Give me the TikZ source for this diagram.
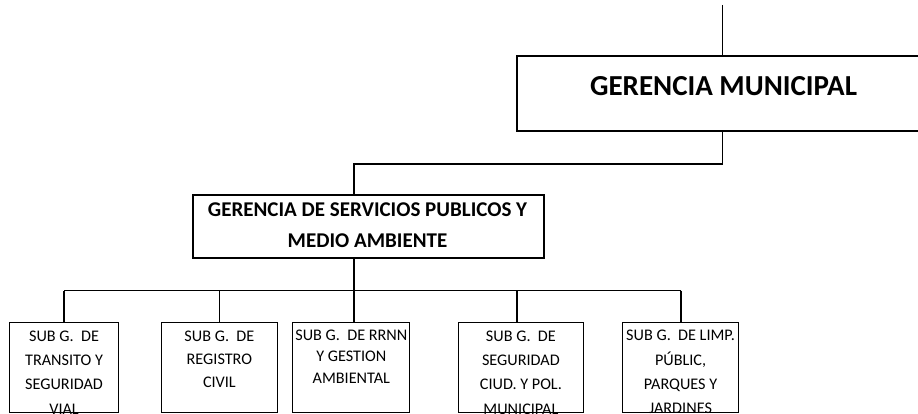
\documentclass[tikz,border=0pt]{standalone}
\usepackage{fontspec}
\setmainfont{Carlito}
\begin{document}
\begin{tikzpicture}[x=1pt,y=-1pt,
  bigbox/.style={draw,line width=2pt,inner sep=0pt,anchor=north west},
  subbox/.style={draw,line width=1.1pt,inner sep=0pt,anchor=north west,minimum height=90.5pt},
  conn/.style={line width=1.4pt},
  subtext/.style={inner sep=0pt,anchor=north,align=center,font={\fontsize{16.2}{24.3}\selectfont}},
]
\clip (0,0) rectangle (918,414);
% boxes
\node[bigbox,minimum width=420pt,minimum height=75pt] (gm) at (515.7,55) {};
\node[anchor=base,inner sep=0pt,font={\fontsize{29}{34}\selectfont\bfseries}] (gmt) at (723.5,96) {GERENCIA MUNICIPAL};
\node[bigbox,minimum width=351.6pt,minimum height=63.3pt] (gs) at (191.7,194) {};
\node[inner sep=0pt,anchor=north,align=center,font={\fontsize{21}{31}\selectfont\bfseries}] (gst) at (367.5,203) {GERENCIA DE SERVICIOS PUBLICOS Y\\MEDIO AMBIENTE};
\node[subbox,minimum width=109pt] (b1) at (9,321.7) {};
\node[subbox,minimum width=116.3pt] (b2) at (160.7,321.7) {};
\node[subbox,minimum width=117pt] (b3) at (292.3,321.7) {};
\node[subbox,minimum width=124.7pt] (b4) at (458,321.7) {};
\node[subbox,minimum width=115.4pt] (b5) at (622.3,321.7) {};
% texts of sub boxes (clipped to the box)
\begin{scope}
\clip (b1.north west) rectangle (b1.south east);
\node[subtext] (t1) at (b1.center |- 0,330.6) {SUB G.\ \ DE\\TRANSITO Y\\SEGURIDAD\\VIAL};
\end{scope}
\begin{scope}
\clip (b2.north west) rectangle (b2.south east);
\node[subtext,font={\fontsize{16.2}{23.3}\selectfont}] (t2) at (b2.center |- 0,330.6) {SUB G.\ \ DE\\REGISTRO\\CIVIL};
\end{scope}
\begin{scope}
\clip (b3.north west) rectangle (b3.south east);
\node[subtext,font={\fontsize{16.2}{21.5}\selectfont}] (t3) at (b3.center |- 0,329.5) {SUB G.\ \ DE RRNN\\Y GESTION\\AMBIENTAL};
\end{scope}
\begin{scope}
\clip (b4.north west) rectangle (b4.south east);
\node[subtext] (t4) at (b4.center |- 0,330.6) {SUB G.\ \ DE\\SEGURIDAD\\CIUD. Y POL.\\MUNICIPAL};
\end{scope}
\begin{scope}
\clip (b5.north west) rectangle (b5.south east);
\node[subtext] (t5) at (b5.center |- 0,330.2) {SUB G.\ \ DE LIMP.\\PÚBLIC,\\PARQUES Y\\JARDINES};
\end{scope}
% connectors
\coordinate (top) at (722.5,5);
\coordinate (j1) at (722.5,164);
\coordinate (x354) at (354,0);
\coordinate (sp) at (354,290.5);
\coordinate (d1) at (64,290.5);
\coordinate (d2) at (219.7,290.5);
\coordinate (d3) at (354,290.5);
\coordinate (d4) at (517,290.5);
\coordinate (d5) at (681,290.5);
\draw[conn] (top) -- (top |- gm.north);
\draw[conn] (top |- gm.south) -- (j1) -| (x354 |- gs.north);
\draw[conn] (x354 |- gs.south) -- (sp);
\draw[conn,line width=1.6pt] (d1) -- (d5);
\foreach \i in {1,...,5}{\draw[conn] (d\i) -- (d\i |- b\i.north);}
\end{tikzpicture}
\end{document}
